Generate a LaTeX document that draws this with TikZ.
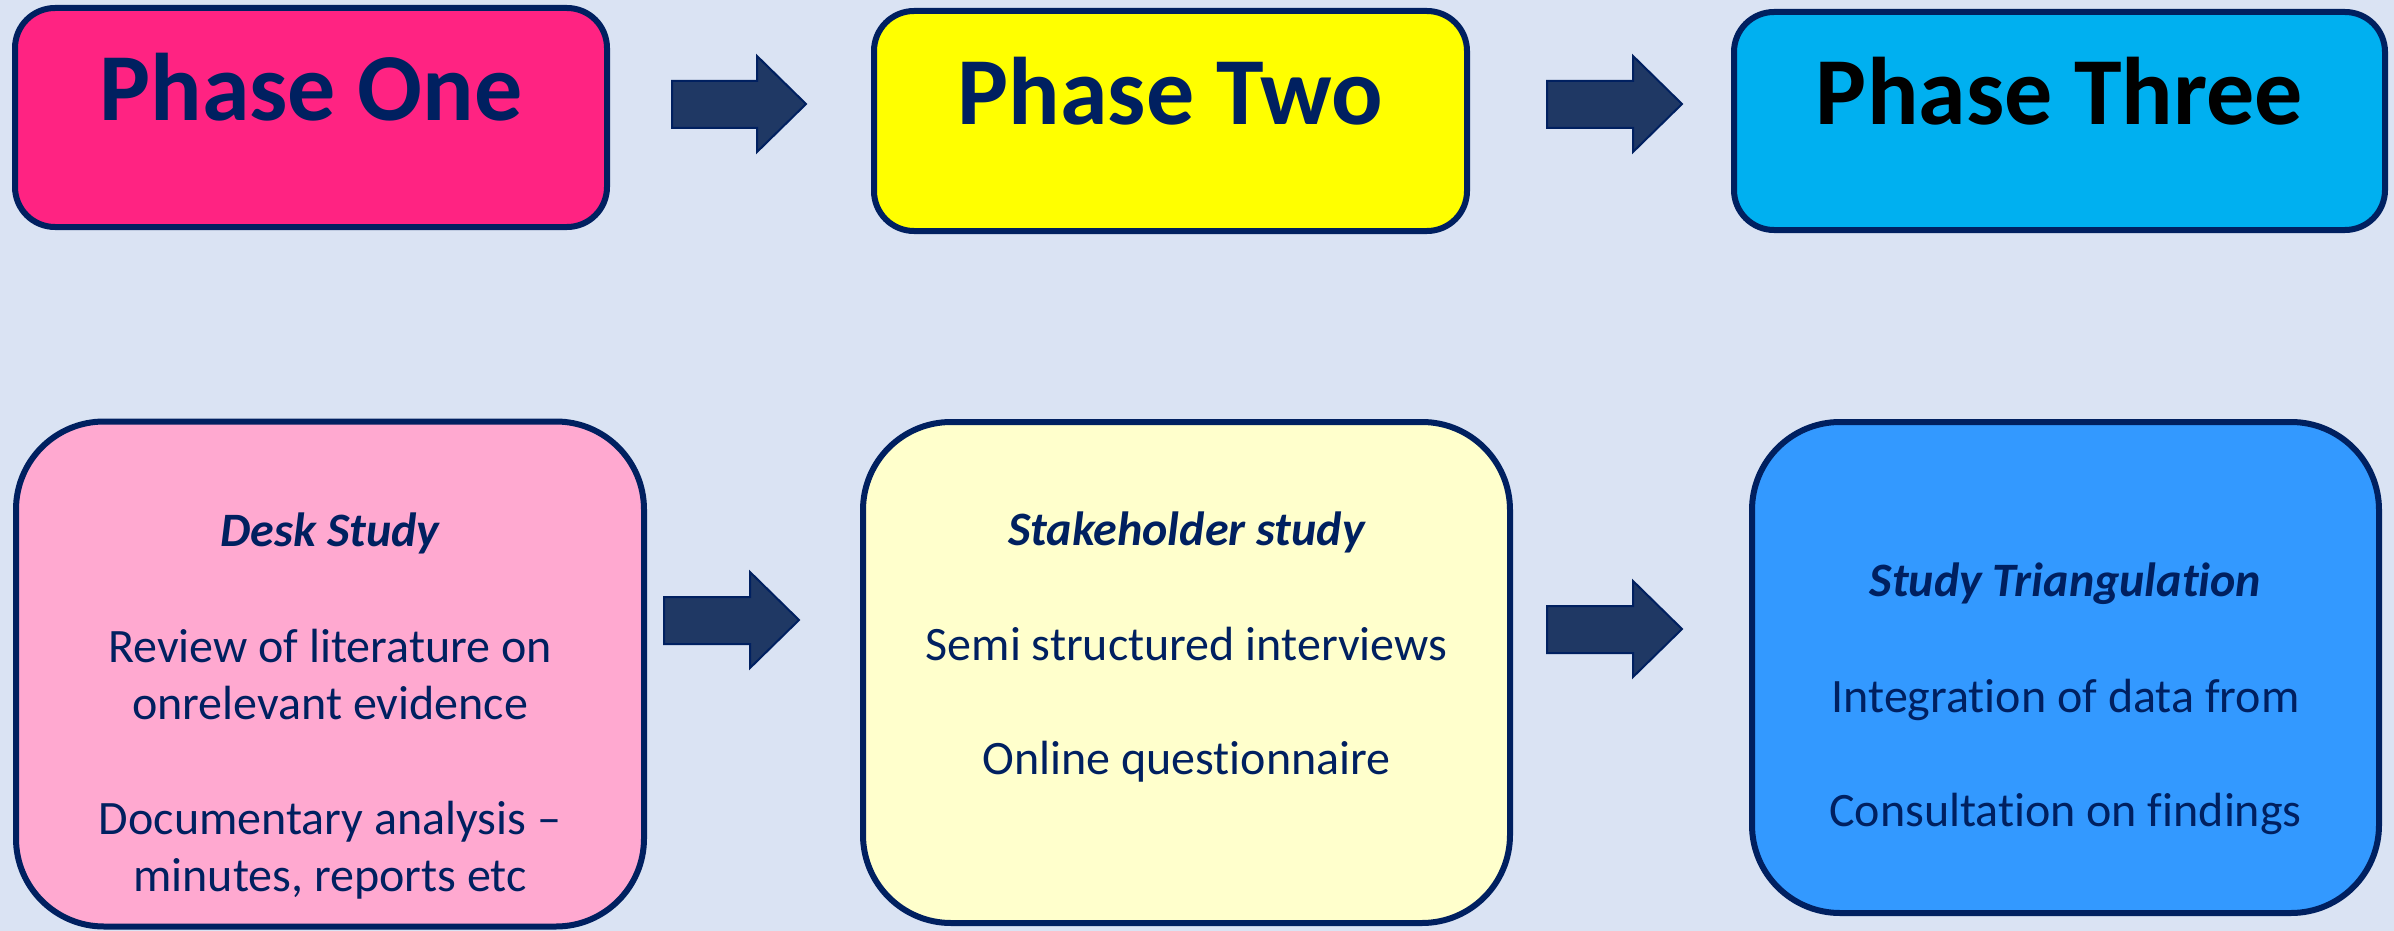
\documentclass[tikz,border=0pt]{standalone}
\usepackage{fontspec}
\setmainfont{Carlito}[Ligatures=NoCommon]
\definecolor{bg}{HTML}{DAE3F3}
\definecolor{navy}{HTML}{002060}
\definecolor{arrfill}{HTML}{1F3864}
\definecolor{pinkA}{HTML}{FF2382}
\definecolor{yellowA}{HTML}{FFFF00}
\definecolor{cyanA}{HTML}{00B0F0}
\definecolor{pinkB}{HTML}{FFA9D0}
\definecolor{yellowB}{HTML}{FFFFCC}
\definecolor{blueB}{HTML}{3399FF}
\tikzset{
  phasebox/.style={draw=navy, line width=6pt, rounded corners=40pt, inner sep=0pt},
  studybox/.style={draw=navy, line width=6pt, rounded corners=88pt, inner sep=0pt},
  phasetxt/.style={anchor=base, inner sep=0pt, text=navy, font=\fontsize{96}{115}\selectfont\bfseries},
  titletxt/.style={anchor=base, inner sep=0pt, text=navy, font=\fontsize{48}{57}\selectfont\bfseries\itshape},
  bodytxt/.style={anchor=base, inner sep=0pt, text=navy, font=\fontsize{48}{57}\selectfont},
  blockarrow/.style={fill=arrfill, draw=navy, line width=2pt, line join=miter}
}
\begin{document}
\begin{tikzpicture}[x=1pt,y=-1pt]
\fill[bg] (0,0) rectangle (2394,931);
\useasboundingbox (0,0) rectangle (2394,931);

% top boxes
\node[phasebox, fill=pinkA, minimum width=592pt, minimum height=219pt] (p1) at (311,117.5) {};
\node[phasebox, fill=yellowA, minimum width=593pt, minimum height=220pt] (p2) at (1170.5,121) {};
\node[phasebox, fill=cyanA, minimum width=651pt, minimum height=218pt] (p3) at (2059.5,121) {};
\node[phasetxt] (t1) at (311,121) {Phase One};
\node[phasetxt] (t2) at (1170.5,125) {Phase Two};
\node[phasetxt, text=black] (t3) at (2059.5,125) {Phase Three};

% bottom boxes
\node[studybox, fill=pinkB, minimum width=628pt, minimum height=505pt] (s1) at (330,674) {};
\node[studybox, fill=yellowB, minimum width=647pt, minimum height=501pt] (s2) at (1186.5,672.5) {};
\node[studybox, fill=blueB, minimum width=627pt, minimum height=491pt] (s3) at (2065.5,667.5) {};

\node[titletxt] (d0) at (330,546) {Desk Study};
\node[bodytxt] (d1) at (330,662) {Review of literature on};
\node[bodytxt] (d2) at (330,719) {onrelevant evidence};
\node[bodytxt] (d3) at (330,834) {Documentary analysis –};
\node[bodytxt] (d4) at (330,891) {minutes, reports etc};

\node[titletxt] (k0) at (1186.5,545) {Stakeholder study};
\node[bodytxt] (k1) at (1186.5,660) {Semi structured interviews};
\node[bodytxt] (k2) at (1186.5,774) {Online questionnaire};

\node[titletxt] (r0) at (2065.5,596) {Study Triangulation};
\node[bodytxt] (r1) at (2065.5,712) {Integration of data from};
\node[bodytxt] (r2) at (2065.5,826) {Consultation on findings};

% block arrows
\draw[blockarrow] (672,81) -- (757,81) -- (757,56) -- (806,104) -- (757,152) -- (757,128) -- (672,128) -- cycle;
\draw[blockarrow] (1547,81) -- (1633,81) -- (1633,56) -- (1682,104) -- (1633,152) -- (1633,128) -- (1547,128) -- cycle;
\draw[blockarrow] (664,597) -- (750,597) -- (750,572) -- (799,620) -- (750,668) -- (750,644) -- (664,644) -- cycle;
\draw[blockarrow] (1547,606) -- (1633,606) -- (1633,581) -- (1682,629) -- (1633,677) -- (1633,653) -- (1547,653) -- cycle;
\end{tikzpicture}
\end{document}
